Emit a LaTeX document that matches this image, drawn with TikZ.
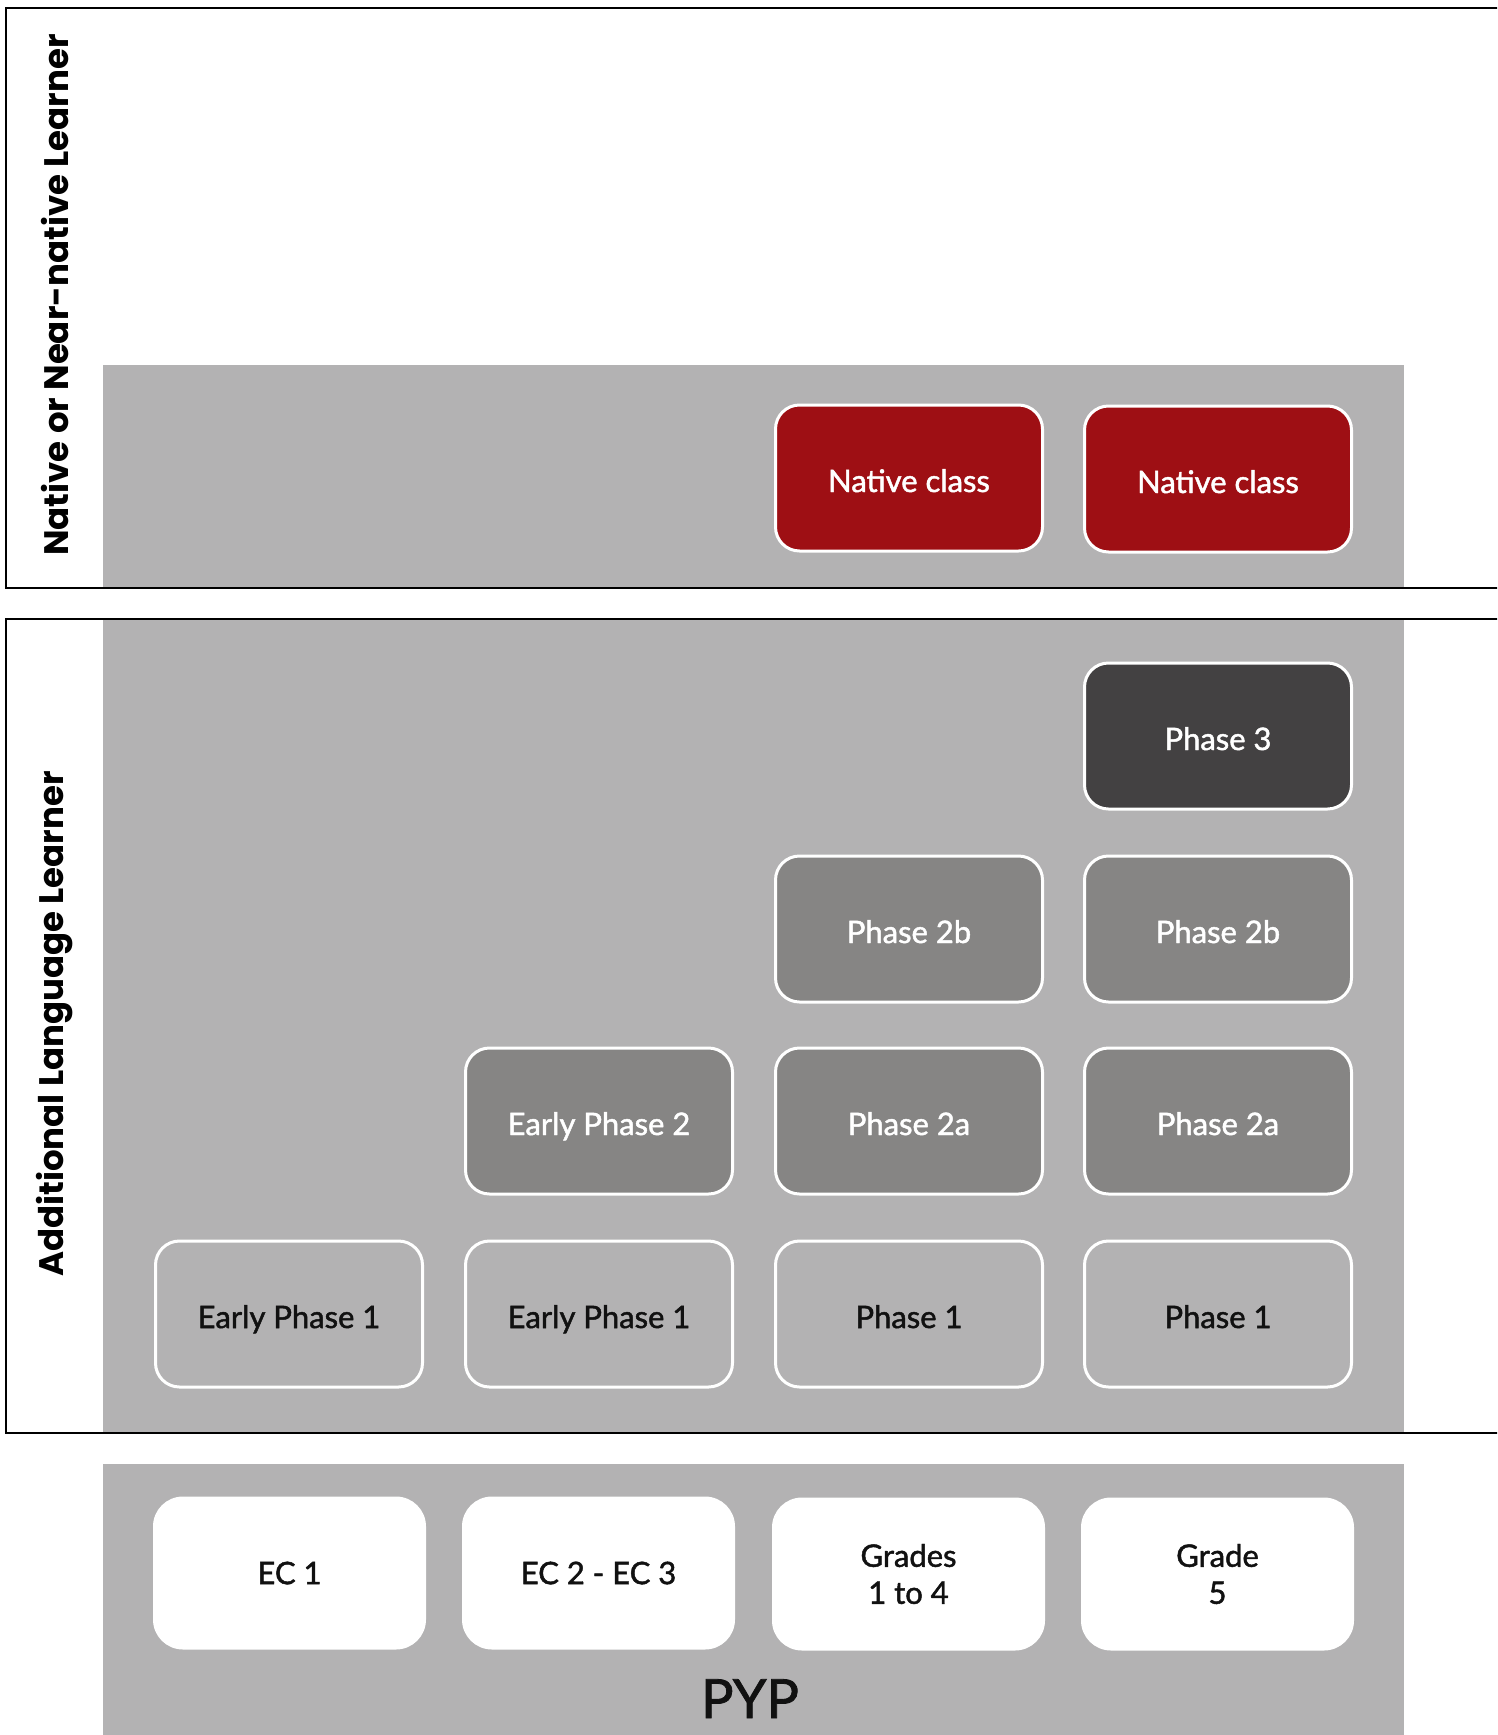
\documentclass[tikz,border=0pt]{standalone}
\usepackage{fontspec}
\setmainfont{Lato}
\newfontfamily\boxfont[FakeBold=1.5]{Lato}
\newfontfamily\sidefont{Poppins}
\definecolor{panel}{HTML}{B3B2B3}
\definecolor{nativered}{HTML}{9E0F14}
\definecolor{midgray}{HTML}{868584}
\definecolor{darkgray}{HTML}{434142}
\definecolor{ink}{HTML}{111111}
\begin{document}
\begin{tikzpicture}[x=1pt,y=-1pt,
  phase/.style={rounded corners=24pt, minimum width=267pt, minimum height=146pt,
    draw=white, line width=3pt, inner sep=0pt, align=center,
    text height=28pt, text depth=0pt,
    font=\boxfont\fontsize{31}{37}\selectfont},
  lightph/.style={phase, fill=panel, text=ink},
  midph/.style={phase, fill=midgray, text=white},
  darkph/.style={phase, fill=darkgray, text=white},
  redph/.style={phase, fill=nativered, text=white},
  grade/.style={rounded corners=30pt, minimum width=273pt, minimum height=153pt,
    fill=white, text=ink, inner sep=0pt, align=center,
    font=\boxfont\fontsize{31}{37}\selectfont},
  frame/.style={draw=black, line width=2.5pt},
  sidelabel/.style={rotate=90, text=black, font=\sidefont\bfseries\fontsize{34}{40}\selectfont}
]
\useasboundingbox (0,0) rectangle (1497,1735);
\clip (0,0) rectangle (1497,1735);
% panels
\fill[panel] (103,365) rectangle (1404,588);
\fill[panel] (103,620) rectangle (1404,1433);
\fill[panel] (103,1464) rectangle (1404,1735);
% frames
\draw[frame] (1510,8) -- (6,8) -- (6,588) -- (1510,588);
\draw[frame] (1510,619) -- (6,619) -- (6,1433) -- (1510,1433);
% side labels
\node[sidelabel] (lbl1) at (55,295) {Native or Near-native Learner};
\node[sidelabel] (lbl2) at (55,1024) {Additional Language Learner};
% native
\node[redph] (nat1) at (909,478) {Native class};
\node[redph] (nat2) at (1218,479) {Native class};
% ALL
\node[darkph] (p3) at (1218,736) {Phase 3};
\node[midph] (p2b3) at (909,929) {Phase 2b};
\node[midph] (p2b4) at (1218,929) {Phase 2b};
\node[midph] (ep2) at (599,1121) {Early Phase 2};
\node[midph] (p2a3) at (909,1121) {Phase 2a};
\node[midph] (p2a4) at (1218,1121) {Phase 2a};
\node[lightph] (ep1a) at (289,1314) {Early Phase 1};
\node[lightph] (ep1b) at (599,1314) {Early Phase 1};
\node[lightph] (p1c) at (909,1314) {Phase 1};
\node[lightph] (p1d) at (1218,1314) {Phase 1};
% PYP
\node[grade] (ec1) at (289.5,1573) {EC 1};
\node[grade] (ec23) at (598.5,1573) {EC 2 - EC 3};
\node[grade] (g14) at (908.5,1574) {Grades\\1 to 4};
\node[grade] (g5) at (1217.5,1574) {Grade\\5};
\node[anchor=base, text=ink, font=\boxfont\fontsize{54}{54}\selectfont] (pyp) at (750,1718) {PYP};
\end{tikzpicture}
\end{document}
